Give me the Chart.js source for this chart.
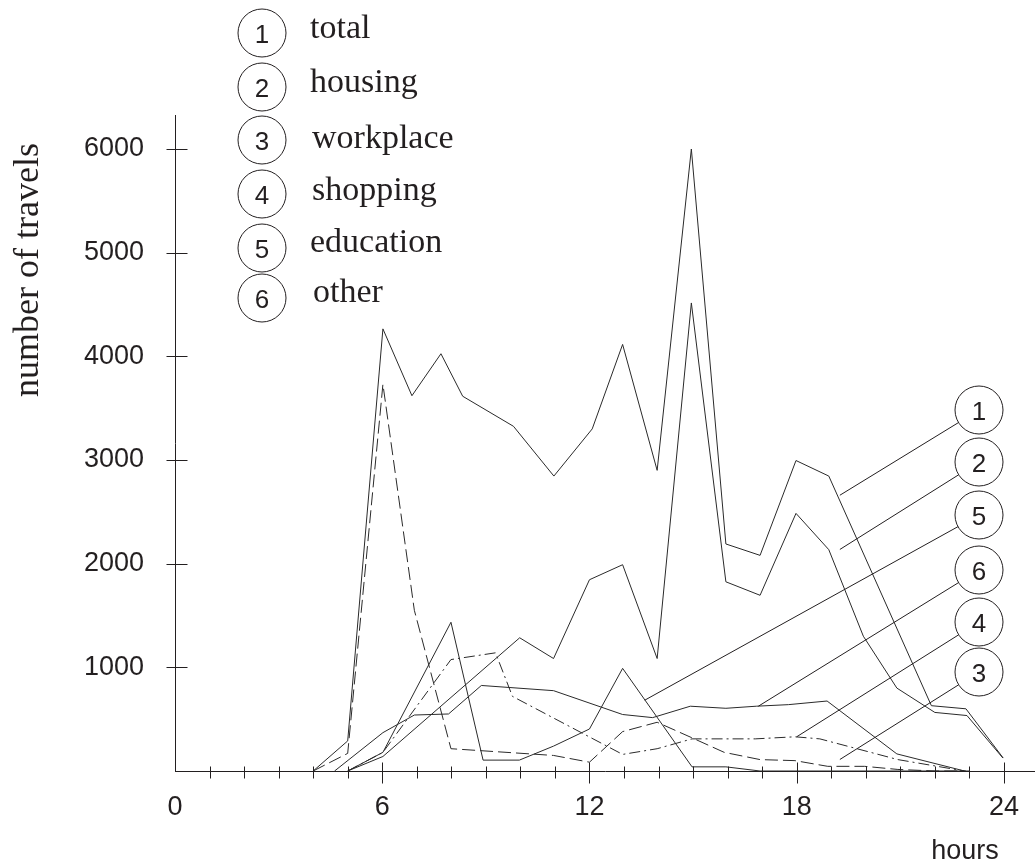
<!DOCTYPE html>
<html>
<head>
<meta charset="utf-8">
<script src="https://cdn.jsdelivr.net/npm/chart.js@4/dist/chart.umd.min.js"></script>
<style>
  html, body { margin: 0; padding: 0; background: #ffffff; }
  #wrap { position: relative; width: 1035px; height: 863px; }
</style>
</head>
<body>
<div id="wrap"><canvas id="c"></canvas></div>
<script>
// ---- data (hour of day, number of travels) ----
const totalHours = [4, 5, 6.02, 6.86, 7.7, 8.33, 9.8, 10.97, 12.08, 12.96, 13.96, 14.95, 15.95, 16.94, 17.98, 18.93, 21.9, 22.9, 23.98];
const totalTrips = [0, 290, 4265, 3620, 4025, 3615, 3325, 2845, 3300, 4115, 2900, 6000, 2190, 2080, 2995, 2845, 630, 600, 125];

const housingHours = [5, 6.02, 9.98, 10.96, 12.0, 12.96, 13.96, 14.95, 15.95, 16.94, 17.98, 18.93, 19.93, 20.9, 22.0, 22.93, 23.97];
const housingTrips = [0, 140, 1285, 1085, 1845, 1990, 1085, 4515, 1825, 1695, 2485, 2135, 1300, 800, 565, 535, 125];

const workplaceHours = [4, 5, 6.02, 6.93, 7.99, 10.96, 12.0, 12.96, 13.96, 14.97, 15.9, 16.94, 17.95, 18.9, 19.97, 20.93, 22.0, 22.9];
const workplaceTrips = [0, 170, 3730, 1550, 215, 150, 85, 380, 470, 320, 180, 110, 100, 45, 45, 15, 0, 0];

const shoppingHours = [5, 6.02, 7.99, 9.28, 9.77, 12.96, 13.96, 14.97, 16.8, 17.95, 18.67, 20.93, 22.86];
const shoppingTrips = [0, 180, 1075, 1140, 720, 160, 215, 310, 310, 330, 310, 110, 0];

const educationHours = [5, 6.02, 7.99, 8.92, 9.97, 10.96, 12.0, 12.96, 14.97, 15.95, 16.94, 23];
const educationTrips = [0, 180, 1435, 105, 105, 240, 405, 990, 40, 40, 0, 0];

const otherHours = [4.62, 6.02, 6.93, 7.92, 8.87, 10.96, 12.96, 13.83, 14.92, 15.95, 16.83, 17.76, 18.88, 20.9, 22.86];
const otherTrips = [0, 370, 540, 550, 825, 775, 545, 515, 625, 605, 625, 640, 675, 165, 0];

// axes
const hourTicks = [0, 6, 12, 18, 24];
const tripTicks = [1000, 2000, 3000, 4000, 5000, 6000];
const minorHourTicks = [1,2,3,4,5,6,7,8,9,10,11,12,13,14,15,16,17,18,19,20,21,22,23,24];

// legend
const legendNumbers = ['1', '2', '3', '4', '5', '6'];
const legendNames = ['total', 'housing', 'workplace', 'shopping', 'education', 'other'];

// callouts: number and the (hour, travels) point each leader line touches
const calloutNumbers = ['1', '2', '5', '6', '4', '3'];
const calloutHours = [19.25, 19.25, 13.6, 16.89, 18.0, 19.25];
const calloutTrips = [2660, 2137, 683, 625, 330, 111];

const INK = '#231f20';
const LINE = '#2a2a2a';
const SANS = "'Liberation Sans', Arial, Helvetica, sans-serif";
const SERIF = "'Liberation Serif', 'Times New Roman', Times, serif";

function pts(xs, ys) { return xs.map((h, i) => ({ x: h, y: ys[i] })); }

function ds(label, xs, ys, dash) {
  return {
    label, data: pts(xs, ys), borderColor: LINE, borderWidth: 1,
    borderDash: dash, pointRadius: 0, tension: 0, fill: false
  };
}

const overlay = {
  id: 'overlay',
  afterDraw(chart) {
    const ctx = chart.ctx;
    const xs = chart.scales.x, ys = chart.scales.y;
    const axisY = Math.round(ys.getPixelForValue(0)) + 0.5;
    const axisX = Math.round(xs.getPixelForValue(0)) + 0.5;
    ctx.save();
    ctx.strokeStyle = INK;
    ctx.lineWidth = 1;
    // x tick marks
    minorHourTicks.forEach(h => {
      const px = Math.round(xs.getPixelForValue(h)) + 0.5;
      const major = hourTicks.includes(h);
      ctx.beginPath();
      ctx.moveTo(px, axisY - (major ? 9 : 5));
      ctx.lineTo(px, axisY + (major ? 12 : 7));
      ctx.stroke();
    });
    // y tick marks
    tripTicks.forEach(v => {
      const py = Math.round(ys.getPixelForValue(v)) + 0.5;
      ctx.beginPath();
      ctx.moveTo(axisX - 9, py);
      ctx.lineTo(axisX + 12, py);
      ctx.stroke();
    });

    // top-left legend
    const lx = 262, lys = [33, 87, 140, 194, 248, 298];
    const tx = [310, 310, 312, 312, 310, 313], tb = [38, 92, 148, 200, 252, 302];
    legendNumbers.forEach((n, i) => {
      ctx.beginPath();
      ctx.arc(lx, lys[i], 24, 0, Math.PI * 2);
      ctx.strokeStyle = INK; ctx.stroke();
      ctx.fillStyle = INK;
      ctx.font = '26px ' + SANS;
      ctx.textAlign = 'center'; ctx.textBaseline = 'alphabetic';
      ctx.fillText(n, lx, lys[i] + 9.5);
      ctx.font = '34px ' + SERIF;
      ctx.textAlign = 'left';
      ctx.fillText(legendNames[i], tx[i], tb[i]);
    });

    // right callouts
    const cx = 979, cys = [410, 462, 515, 570, 622, 672];
    calloutNumbers.forEach((n, i) => {
      const ex = xs.getPixelForValue(calloutHours[i]);
      const ey = ys.getPixelForValue(calloutTrips[i]);
      const dx = ex - cx, dy = ey - cys[i];
      const d = Math.hypot(dx, dy);
      ctx.beginPath();
      ctx.moveTo(cx + dx / d * 24, cys[i] + dy / d * 24);
      ctx.lineTo(ex, ey);
      ctx.strokeStyle = INK; ctx.stroke();
      ctx.beginPath();
      ctx.arc(cx, cys[i], 24, 0, Math.PI * 2);
      ctx.fillStyle = '#ffffff'; ctx.fill();
      ctx.stroke();
      ctx.fillStyle = INK;
      ctx.font = '26px ' + SANS;
      ctx.textAlign = 'center'; ctx.textBaseline = 'alphabetic';
      ctx.fillText(n, cx, cys[i] + 9.5);
    });

    // axis titles
    ctx.fillStyle = INK;
    ctx.font = '27px ' + SANS;
    ctx.textAlign = 'center'; ctx.textBaseline = 'alphabetic';
    ctx.fillText('hours', 965, 859);
    ctx.save();
    ctx.translate(38, 270);
    ctx.rotate(-Math.PI / 2);
    ctx.font = '36px ' + SERIF;
    ctx.fillText('number of travels', 0, 0);
    ctx.restore();
    ctx.restore();
  }
};

new Chart(document.getElementById('c'), {
  type: 'line',
  data: {
    datasets: [
      ds(legendNames[0], totalHours, totalTrips, []),
      ds(legendNames[1], housingHours, housingTrips, []),
      ds(legendNames[2], workplaceHours, workplaceTrips, [13, 5]),
      ds(legendNames[3], shoppingHours, shoppingTrips, [11, 4, 2, 4]),
      ds(legendNames[4], educationHours, educationTrips, []),
      ds(legendNames[5], otherHours, otherTrips, [])
    ]
  },
  options: {
    responsive: true,
    maintainAspectRatio: false,
    animation: false,
    devicePixelRatio: 1,
    layout: { padding: { top: 115, right: 0, bottom: 0, left: 0 } },
    plugins: { legend: { display: false }, tooltip: { enabled: false } },
    scales: {
      x: {
        type: 'linear', min: 0, max: 24.9,
        afterBuildTicks: s => { s.ticks = hourTicks.map(v => ({ value: v })); },
        afterFit: s => { s.height = 92; s.paddingLeft = 0; s.paddingRight = 0; },
        grid: { display: false, drawTicks: false },
        border: { display: true, color: INK, width: 1 },
        ticks: { color: INK, font: { family: SANS, size: 27 }, padding: 20, maxRotation: 0, autoSkip: false,
                 callback: v => String(v) }
      },
      y: {
        type: 'linear', min: 0, max: 6328,
        afterBuildTicks: s => { s.ticks = tripTicks.map(v => ({ value: v })); },
        afterFit: s => { s.width = 175; s.paddingTop = 0; s.paddingBottom = 0; },
        grid: { display: false, drawTicks: false },
        border: { display: true, color: INK, width: 1 },
        ticks: { color: INK, font: { family: SANS, size: 27 }, padding: 31, callback: v => String(v) }
      }
    }
  },
  plugins: [overlay]
});
</script>
</body>
</html>
